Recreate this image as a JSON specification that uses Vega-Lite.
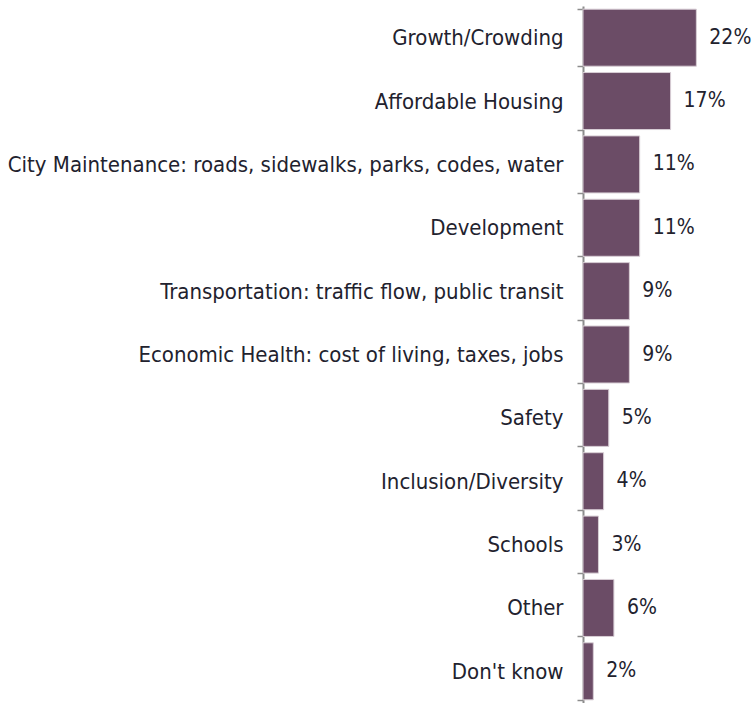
{
  "$schema": "https://vega.github.io/schema/vega-lite/v6.json",
  "autosize": "none",
  "padding": {"left": 583, "top": 6, "right": 0, "bottom": 0},
  "width": 169,
  "height": 697,
  "background": "white",
  "data": {
    "values": [
      {"category": "Growth/Crowding", "pct": 0.22},
      {"category": "Affordable Housing", "pct": 0.17},
      {"category": "City Maintenance: roads, sidewalks, parks, codes, water", "pct": 0.11},
      {"category": "Development", "pct": 0.11},
      {"category": "Transportation: traffic flow, public transit", "pct": 0.09},
      {"category": "Economic Health: cost of living, taxes, jobs", "pct": 0.09},
      {"category": "Safety", "pct": 0.05},
      {"category": "Inclusion/Diversity", "pct": 0.04},
      {"category": "Schools", "pct": 0.03},
      {"category": "Other", "pct": 0.06},
      {"category": "Don't know", "pct": 0.02}
    ]
  },
  "encoding": {
    "y": {
      "field": "category",
      "type": "nominal",
      "sort": null,
      "scale": {"paddingInner": 0.1, "paddingOuter": 0.05},
      "axis": {
        "title": null,
        "domainColor": "#8c8c8c",
        "domainWidth": 2,
        "tickColor": "#8c8c8c",
        "tickWidth": 1.5,
        "tickSize": 6,
        "tickBand": "extent",
        "labelPadding": 14,
        "labelFont": "DejaVu Sans Condensed, DejaVu Sans",
        "labelFontSize": 22,
        "labelColor": "#22222e",
        "labelLimit": 700
      }
    },
    "x": {
      "field": "pct",
      "type": "quantitative",
      "scale": {"domain": [0, 0.328]},
      "axis": null
    }
  },
  "layer": [
    {
      "mark": {"type": "bar", "color": "#6b4c66", "stroke": "#d8ced5", "strokeWidth": 1}
    },
    {
      "mark": {"type": "text", "align": "left", "dx": 13, "font": "DejaVu Sans Condensed, DejaVu Sans", "fontSize": 21, "color": "#22222e"},
      "encoding": {"text": {"field": "pct", "type": "quantitative", "format": ".0%"}}
    }
  ],
  "config": {"view": {"stroke": null}, "axis": {"grid": false}}
}
